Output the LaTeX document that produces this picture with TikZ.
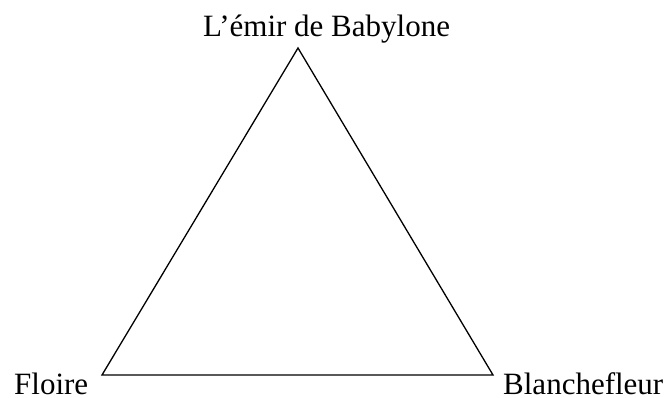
\documentclass[tikz,border=0pt]{standalone}
\usepackage{fontspec}
\setmainfont{Liberation Serif}
\begin{document}
\begin{tikzpicture}[x=1pt,y=-1pt,
  lbl/.style={inner sep=0pt,anchor=base west,font=\fontsize{31}{37}\selectfont},
  flat/.style={text depth=0pt},
  edge/.style={line width=1.3pt,line join=miter}]
\useasboundingbox (0,0) rectangle (670,397);
\coordinate (top) at (298,48);
\coordinate (bl) at (102,375);
\coordinate (br) at (493,375);
\node[lbl] (emir) at (203,36) {L’émir de Babylone};
\node[lbl,flat] (floire) at (14,394) {Floire};
\node[lbl,flat] (blanche) at (503,394) {Blanchefleur};
\draw[edge] (top) -- (bl) -- (br) -- cycle;
\end{tikzpicture}
\end{document}
